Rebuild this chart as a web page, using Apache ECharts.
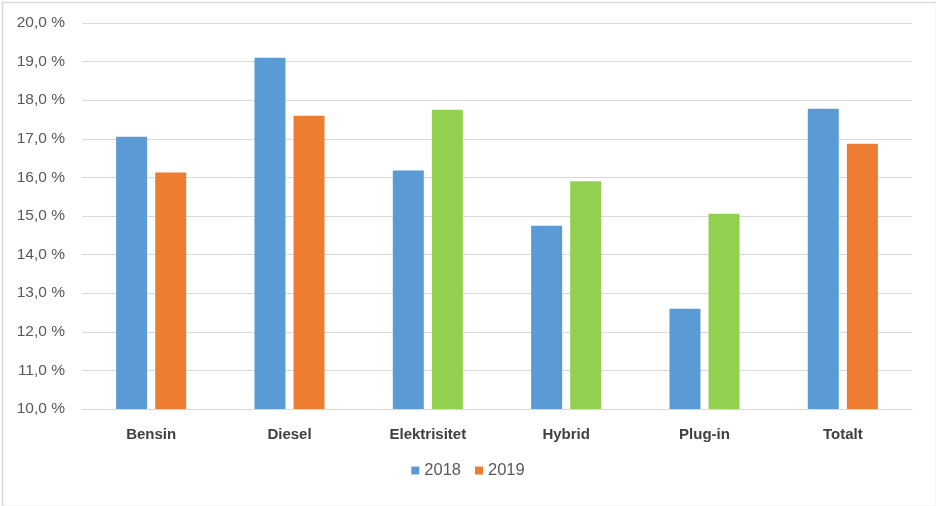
<!DOCTYPE html>
<html>
<head>
<meta charset="utf-8">
<script src="https://cdn.jsdelivr.net/npm/echarts@6/dist/echarts.min.js"></script>
<style>
html,body{margin:0;padding:0;background:#fff;}
#c{width:936px;height:506px;}
</style>
</head>
<body>
<div id="c"></div>
<script>
const categories = ['Bensin', 'Diesel', 'Elektrisitet', 'Hybrid', 'Plug-in', 'Totalt'];
const values2018 = [17.05, 19.1, 16.18, 14.75, 12.6, 17.78];
const values2019 = [16.13, 17.6, 17.75, 15.9, 15.06, 16.87];
const greenCategories = ['Elektrisitet', 'Hybrid', 'Plug-in'];
const yTicks = { min: 10, max: 20, interval: 1 };

const BLUE = '#5B9BD5', ORANGE = '#ED7D31', GREEN = '#92D050';
const FONT = 'Liberation Sans';

const chart = echarts.init(document.getElementById('c'));
chart.setOption({
  animation: false,
  backgroundColor: '#fff',
  textStyle: { fontFamily: FONT },
  graphic: [{
    type: 'rect', left: 0, top: 0, z: -1,
    shape: { x: 0.5, y: 0.5, width: 934, height: 504 },
    style: { fill: 'none', stroke: '#d9d9d9', lineWidth: 1.5 }
  }],
  grid: { left: 82, right: 24, top: 23, bottom: 97 },
  legend: {
    bottom: 22, left: 'center',
    icon: 'rect', itemWidth: 8, itemHeight: 8, itemGap: 14,
    textStyle: { fontSize: 16.5, color: '#595959', fontFamily: FONT },
    data: ['2018', '2019']
  },
  xAxis: {
    type: 'category', data: categories,
    axisLine: { lineStyle: { color: '#d9d9d9' } },
    axisTick: { show: false },
    axisLabel: { fontSize: 15, fontWeight: 'bold', color: '#404040', margin: 18, fontFamily: FONT }
  },
  yAxis: {
    type: 'value', min: yTicks.min, max: yTicks.max, interval: yTicks.interval,
    axisLine: { show: false }, axisTick: { show: false },
    splitLine: { lineStyle: { color: '#d9d9d9' } },
    axisLabel: {
      fontSize: 15.5, color: '#595959', margin: 17, fontFamily: FONT,
      formatter: v => v.toFixed(1).replace('.', ',') + ' %'
    }
  },
  series: [
    { name: '2018', type: 'bar', barWidth: 31, barGap: '26%', itemStyle: { color: BLUE }, data: values2018 },
    { name: '2019', type: 'bar', barWidth: 31, itemStyle: { color: ORANGE },
      data: values2019.map((v, i) => greenCategories.includes(categories[i]) ? { value: v, itemStyle: { color: GREEN } } : v) }
  ]
});
</script>
</body>
</html>
